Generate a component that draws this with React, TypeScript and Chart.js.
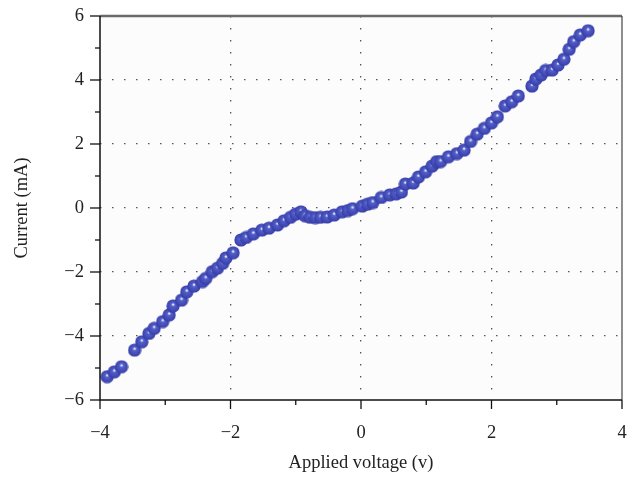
import React, { useEffect, useRef } from "react";
import { Chart, registerables } from "chart.js";

Chart.register(...registerables);

const voltage = [
  -3.89, -3.78, -3.67, -3.47, -3.36, -3.25, -3.17, -3.04, -2.94, -2.88,
  -2.75, -2.67, -2.56, -2.43, -2.38, -2.28, -2.2, -2.12, -2.07, -1.96,
  -1.84, -1.76, -1.65, -1.52, -1.41, -1.28, -1.18, -1.08, -1.0, -0.92,
  -0.86, -0.78, -0.7, -0.62, -0.52, -0.41, -0.29, -0.2, -0.13, 0.02,
  0.1, 0.18, 0.31, 0.44, 0.54, 0.62, 0.68, 0.8, 0.88, 0.99,
  1.09, 1.16, 1.22, 1.34, 1.47, 1.58, 1.68, 1.78, 1.89, 2.0,
  2.09, 2.21, 2.31, 2.41, 2.62, 2.68, 2.76, 2.83, 2.93, 3.02,
  3.11, 3.19, 3.26, 3.36, 3.48,
];

const current = [
  -5.27, -5.12, -4.96, -4.44, -4.18, -3.92, -3.76, -3.55, -3.34, -3.06,
  -2.88, -2.62, -2.44, -2.3, -2.2, -1.99, -1.88, -1.73, -1.56, -1.4,
  -1.0, -0.92, -0.81, -0.69, -0.63, -0.53, -0.4, -0.29, -0.19, -0.12,
  -0.24, -0.29, -0.3, -0.29, -0.28, -0.22, -0.12, -0.08, -0.02, 0.06,
  0.12, 0.17, 0.33, 0.41, 0.44, 0.5, 0.75, 0.78, 0.97, 1.13,
  1.31, 1.45, 1.45, 1.6, 1.7, 1.81, 2.08, 2.31, 2.49, 2.66,
  2.85, 3.19, 3.32, 3.5, 3.81, 4.03, 4.16, 4.3, 4.31, 4.47,
  4.65, 4.96, 5.2, 5.41, 5.54,
];

const xTicks = [-4, -3, -2, -1, 0, 1, 2, 3, 4];
const yTicks = [-6, -5, -4, -3, -2, -1, 0, 1, 2, 3, 4, 5, 6];

const FONT = "'Liberation Serif', 'DejaVu Serif', serif";

function makeSphere(): HTMLCanvasElement {
  const r = 7;
  const c = document.createElement("canvas");
  c.width = r * 2;
  c.height = r * 2;
  const g = c.getContext("2d")!;
  const grad = g.createRadialGradient(r, r - 1.6, 0, r, r, r);
  grad.addColorStop(0, "#ffffff");
  grad.addColorStop(0.1, "#d4daf8");
  grad.addColorStop(0.26, "#5560c8");
  grad.addColorStop(0.85, "#3b43b0");
  grad.addColorStop(1, "#2a2e8c");
  g.fillStyle = grad;
  g.beginPath();
  g.arc(r, r, r - 0.4, 0, Math.PI * 2);
  g.fill();
  return c;
}

const framePlugin = {
  id: "frame",
  beforeDraw(chart: any) {
    const { ctx, chartArea } = chart;
    const { left, right, top, bottom } = chartArea;
    ctx.save();
    ctx.fillStyle = "#fcfcfd";
    ctx.fillRect(left, top, right - left, bottom - top);
    ctx.restore();
  },
  afterDatasetsDraw(chart: any) {
    const { ctx, chartArea, scales } = chart;
    const { left, right, top, bottom } = chartArea;
    ctx.save();
    ctx.strokeStyle = "#6a6a6a";
    ctx.lineWidth = 2.5;
    ctx.beginPath();
    ctx.moveTo(left, top);
    ctx.lineTo(right, top);
    ctx.stroke();
    ctx.strokeStyle = "#444";
    ctx.lineWidth = 1.2;
    ctx.beginPath();
    ctx.moveTo(right, top);
    ctx.lineTo(right, bottom);
    ctx.stroke();
    ctx.strokeStyle = "#111";
    ctx.lineWidth = 1.5;
    ctx.beginPath();
    ctx.moveTo(left, top);
    ctx.lineTo(left, bottom);
    ctx.lineTo(right, bottom);
    ctx.stroke();
    ctx.lineWidth = 1.3;
    xTicks.forEach((v) => {
      const px = scales.x.getPixelForValue(v);
      const len = v % 2 === 0 ? 9 : 5;
      ctx.beginPath();
      ctx.moveTo(px, bottom);
      ctx.lineTo(px, bottom + len);
      ctx.stroke();
    });
    yTicks.forEach((v) => {
      const py = scales.y.getPixelForValue(v);
      const len = v % 2 === 0 ? 10 : 5;
      ctx.beginPath();
      ctx.moveTo(left, py);
      ctx.lineTo(left - len, py);
      ctx.stroke();
    });
    ctx.restore();
  },
};

const fmt = (v: any) => String(v).replace("-", "\u2212");

export default function App() {
  const ref = useRef<HTMLCanvasElement | null>(null);
  useEffect(() => {
    if (!ref.current) return;
    const sphere = makeSphere();
    const chart = new Chart(ref.current, {
      type: "scatter",
      data: {
        datasets: [
          {
            data: voltage.map((v, i) => ({ x: v, y: current[i] })),
            pointStyle: sphere as any,
            pointRadius: 7,
            backgroundColor: "#3b45b8",
            borderColor: "#2a2f93",
          },
        ],
      },
      options: {
        animation: false,
        responsive: false,
        layout: { padding: { left: 0, right: 10, top: 16, bottom: 0 } },
        plugins: { legend: { display: false }, tooltip: { enabled: false } },
        scales: {
          x: {
            type: "linear",
            min: -4,
            max: 4,
            ticks: {
              stepSize: 2,
              padding: 22,
              color: "#222",
              font: { family: FONT, size: 18.5 },
              callback: fmt,
            },
            grid: {
              drawTicks: false,
              lineWidth: 1.3,
              color: (c: any) =>
                c.tick && (c.tick.value === -4 || c.tick.value === 4) ? "rgba(0,0,0,0)" : "#555",
            },
            border: { display: false, dash: [1.5, 10.5] },
            title: {
              display: true,
              text: "Applied voltage (v)",
              color: "#222",
              font: { family: FONT, size: 18.5 },
              padding: { top: 0, bottom: 16 },
            },
            afterFit: (s: any) => {
              s.height = 90;
              s.paddingLeft = 0;
              s.paddingRight = 0;
            },
          },
          y: {
            type: "linear",
            min: -6,
            max: 6,
            ticks: {
              stepSize: 2,
              padding: 16,
              color: "#222",
              font: { family: FONT, size: 18.5 },
              callback: fmt,
            },
            grid: {
              drawTicks: false,
              lineWidth: 1.3,
              color: (c: any) =>
                c.tick && (c.tick.value === -6 || c.tick.value === 6) ? "rgba(0,0,0,0)" : "#555",
            },
            border: { display: false, dash: [1.5, 10.5] },
            title: {
              display: true,
              text: "Current (mA)",
              color: "#222",
              font: { family: FONT, size: 18.5 },
              padding: { top: 11, bottom: 0 },
            },
            afterFit: (s: any) => {
              s.width = 100;
              s.paddingTop = 0;
              s.paddingBottom = 0;
            },
          },
        },
      },
      plugins: [framePlugin],
    });
    return () => chart.destroy();
  }, []);
  return (
    <div style={{ position: "fixed", left: 0, top: 0, width: 632, height: 490, background: "#fff" }}>
      <canvas ref={ref} width={632} height={490} />
    </div>
  );
}
